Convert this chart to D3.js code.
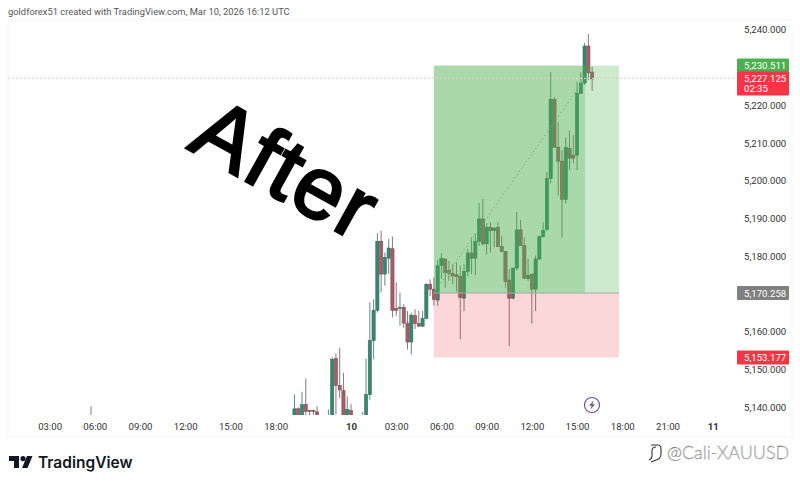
<!DOCTYPE html>
<html>
<head>
<meta charset="utf-8">
<script src="https://cdn.jsdelivr.net/npm/d3@7"></script>
<style>
  html, body { margin: 0; padding: 0; background: #fff; }
  svg { display: block; }
  text { font-family: Roboto, sans-serif; }
</style>
</head>
<body>
<div id="chart"></div>
<script>
// hours relative to Mar 10 00:00, 15 minute candles (the daily break is left out of the axis)
const times  = [-17.25,-3.75,-3.5,-3.25,-3,-2.75,-2.5,-2.25,-1.5,-1.25,-1,-0.75,-0.5,-0.25,0,0.75,1,1.25,1.5,1.75,2,2.25,2.5,2.75,3,3.25,3.5,3.75,4,4.25,4.5,4.75,5,5.25,5.5,5.75,6,6.25,6.5,6.75,7,7.25,7.5,7.75,8,8.25,8.5,8.75,9,9.25,9.5,9.75,10,10.25,10.5,10.75,11,11.25,11.5,11.75,12,12.25,12.5,12.75,13,13.25,13.5,13.75,14,14.25,14.5,14.75,15,15.25,15.5,15.75,16];
const opens  = [5136.5,5136,5139.6,5136,5140.7,5139.2,5139.2,5138.8,5134,5136,5152.9,5145.8,5144.4,5136,5139.1,5133,5136,5143.4,5157.7,5165.7,5184,5175.3,5179.5,5182,5166.2,5166.2,5166.5,5162.3,5157.3,5164.3,5162.2,5161.5,5163.5,5172.6,5171.3,5168.4,5177.6,5179.3,5176.2,5175.5,5175.1,5174.6,5168.9,5176,5180.9,5179.5,5184,5189.9,5183.3,5187.7,5186.8,5187.7,5182.6,5181.3,5173.7,5168.9,5176.9,5187,5182.8,5174.1,5175.3,5171.3,5179.3,5185.2,5187.1,5200.6,5221.6,5208.9,5205.2,5195.1,5208.6,5206.8,5206.8,5223.2,5225.9,5235.7,5228.8];
const highs  = [5140.3,5143.4,5140,5144.1,5147.6,5139.3,5139.4,5140.3,5139.4,5153.3,5154.3,5155.8,5149.1,5142.9,5140.9,5138.8,5152.9,5167.8,5168.6,5186.1,5186.8,5181,5184.6,5185.2,5173.1,5170.4,5167.3,5165.5,5165.1,5166,5165.5,5165.5,5172.9,5173.9,5174.4,5179,5180.8,5179.3,5178.8,5177.9,5178.4,5177.5,5177.9,5182,5185,5186,5194.1,5195.2,5188.8,5189,5187.7,5189,5185.5,5181.3,5176.6,5176.9,5191.7,5189.6,5185,5179.3,5175.3,5180.2,5185.5,5189,5202.3,5228.8,5222.2,5215.5,5208.1,5211.5,5213.4,5212.1,5226.2,5228.8,5236.5,5238.9,5230.2];
const lows   = [5136,5135.5,5135.5,5135.5,5136.5,5137.9,5136,5136,5133,5135,5138.1,5142.5,5135,5135,5135,5132,5135,5142,5152.7,5165.1,5170.4,5172.2,5175.3,5163.8,5164.2,5161.6,5161.1,5155.3,5154,5160.7,5161.3,5161.3,5163.3,5169.5,5166.9,5166.9,5174,5171.6,5173.5,5172.6,5170.7,5158,5165.4,5174.8,5175.3,5175.1,5182.8,5182.8,5180.4,5181,5182.4,5182.4,5181,5171.7,5156.2,5168.6,5176.3,5182.8,5174,5173.5,5162.2,5165.5,5179,5185,5186.8,5199.3,5208.9,5196.1,5184.9,5194,5202.8,5204.6,5202.8,5223,5225.4,5226.7,5223.8];
const closes = [5136.2,5139.6,5136,5140.7,5138.9,5139.1,5139,5136.5,5136,5152.7,5145.8,5144.6,5136,5139.4,5136,5135,5143.4,5157.7,5165.7,5184,5175.3,5179.7,5182.2,5165.7,5165.7,5166.5,5162.3,5157.3,5164.4,5162.2,5161.5,5163.5,5172.6,5171.3,5168.6,5177.5,5179.4,5175.7,5175.5,5174.8,5174.6,5169.1,5176,5180.9,5179.5,5184,5189.9,5183.3,5187.7,5186.8,5187.5,5182.6,5181.3,5173.3,5168.9,5176.9,5187,5182.8,5174.2,5175,5171.3,5179.3,5185.2,5186.8,5200.6,5221.6,5208.9,5205.2,5195.1,5208.9,5206,5206,5223.2,5225.9,5235.7,5228.6,5227];

const priceTicks = [5240,5220,5210,5200,5190,5180,5160,5150,5140];
const timeTicks = [-20,-17,-14,-11,-8,-5,0,3,6,9,12,15,18,21,24];
const timeLabels = ["03:00","06:00","09:00","12:00","15:00","18:00","10","03:00","06:00","09:00","12:00","15:00","18:00","21:00","11"];
const boldTicks = [0,24];

// long position tool
const positionStart = 5.5, positionNow = 15.53, positionEnd = 17.78;
const targetPrice = 5230.511, entryPrice = 5170.258, stopPrice = 5153.177, lastPrice = 5227.125;
const countdown = "02:35";

const fmt = d3.format(",.3f");
const width = 800, height = 485;

const x = d3.scaleLinear().domain([0, 24]).range([351, 712.7]);
const y = d3.scaleLinear().domain([5240, 5140]).range([29.8, 407.3]);

const svg = d3.select("#chart").append("svg").attr("width", width).attr("height", height);
svg.append("rect").attr("width", width).attr("height", height).attr("fill", "#fff");

svg.append("defs").append("clipPath").attr("id", "plot-clip")
  .append("rect").attr("x", 8).attr("y", 20).attr("width", 727).attr("height", 395);

// frame of the chart
svg.append("rect")
  .attr("x", 8).attr("y", 20).attr("width", 784).attr("height", 417)
  .attr("fill", "none").attr("stroke", "#f6f6f6");

svg.append("text").attr("x", 8).attr("y", 15)
  .attr("font-size", 9.37).attr("fill", "#555")
  .text("goldforex51 created with TradingView.com, Mar 10, 2026 16:12 UTC");

const plot = svg.append("g").attr("clip-path", "url(#plot-clip)");

// candles
const candles = times.map((t, i) => ({ t, o: opens[i], h: highs[i], l: lows[i], c: closes[i] }));
const isUp = d => d.c >= d.o;

plot.selectAll("line.wick").data(candles).join("line")
  .attr("class", "wick")
  .attr("x1", d => x(d.t)).attr("x2", d => x(d.t))
  .attr("y1", d => y(d.h)).attr("y2", d => y(d.l))
  .attr("stroke", d => isUp(d) ? "#5f8a7e" : "#96727a")
  .attr("stroke-width", 1);

plot.selectAll("rect.body").data(candles).join("rect")
  .attr("class", "body")
  .attr("x", d => x(d.t) - 1.6)
  .attr("width", 3.2)
  .attr("y", d => y(Math.max(d.o, d.c)))
  .attr("height", d => Math.max(1, Math.abs(y(d.o) - y(d.c))))
  .attr("fill", d => isUp(d) ? "#35876f" : "#a85c66")
  .attr("stroke", d => isUp(d) ? "#3a6f62" : "#7c4f55")
  .attr("stroke-width", 0.6);

// position boxes go over the candles
plot.append("rect")
  .attr("x", x(positionStart)).attr("width", x(positionEnd) - x(positionStart))
  .attr("y", y(targetPrice)).attr("height", y(entryPrice) - y(targetPrice))
  .attr("fill", "rgba(76,175,80,0.28)");
plot.append("rect")
  .attr("x", x(positionStart)).attr("width", x(positionNow) - x(positionStart))
  .attr("y", y(targetPrice)).attr("height", y(entryPrice) - y(targetPrice))
  .attr("fill", "rgba(76,175,80,0.28)");
plot.append("rect")
  .attr("x", x(positionStart)).attr("width", x(positionEnd) - x(positionStart))
  .attr("y", y(entryPrice)).attr("height", y(stopPrice) - y(entryPrice))
  .attr("fill", "rgba(242,54,69,0.2)");
plot.append("line")
  .attr("x1", x(positionStart)).attr("x2", x(positionEnd))
  .attr("y1", y(entryPrice)).attr("y2", y(entryPrice))
  .attr("stroke", "#a3aca3").attr("stroke-width", 1);
plot.append("line")
  .attr("x1", x(positionStart)).attr("y1", y(entryPrice))
  .attr("x2", x(positionNow)).attr("y2", y(lastPrice))
  .attr("stroke", "#7fa583").attr("stroke-width", 1).attr("stroke-dasharray", "1.5 2.5");

// last price line
svg.append("line")
  .attr("x1", 8).attr("x2", 735)
  .attr("y1", y(lastPrice)).attr("y2", y(lastPrice))
  .attr("stroke", "#efc9c9").attr("stroke-width", 1).attr("stroke-dasharray", "2 2");

// axes
const xAxis = svg.append("g")
  .attr("transform", "translate(0,420)")
  .call(d3.axisBottom(x).tickValues(timeTicks).tickSize(0).tickPadding(0)
    .tickFormat((d, i) => timeLabels[i]));
xAxis.select(".domain").remove();
xAxis.selectAll("text")
  .attr("y", 3)
  .attr("font-size", 9.6)
  .attr("font-family", "Roboto, sans-serif")
  .attr("font-weight", d => boldTicks.includes(d) ? 700 : 400)
  .attr("fill", "#333");

const yAxis = svg.append("g")
  .attr("transform", "translate(744,0)")
  .call(d3.axisRight(y).tickValues(priceTicks).tickSize(0).tickPadding(0).tickFormat(fmt));
yAxis.select(".domain").remove();
yAxis.selectAll("text")
  .attr("font-size", 9.6)
  .attr("font-family", "Roboto, sans-serif")
  .attr("fill", "#333");

// price badges
function badge(price, fill, h) {
  const top = y(price) - 7;
  svg.append("rect")
    .attr("x", 737).attr("y", top).attr("width", 52).attr("height", h)
    .attr("rx", 1).attr("fill", fill);
  svg.append("text")
    .attr("x", 744).attr("y", top + 10.5)
    .attr("font-size", 9.6).attr("fill", "#fff")
    .text(fmt(price));
}
badge(targetPrice, "#4caf50", 14);
badge(lastPrice, "#f23645", 24);
svg.append("text").attr("x", 744).attr("y", y(lastPrice) + 13.5)
  .attr("font-size", 9.6).attr("fill", "#fff").text(countdown);
badge(entryPrice, "#808080", 14);
badge(stopPrice, "#f23645", 14);

// lightning marker
const bolt = svg.append("g").attr("transform", "translate(592,405)");
bolt.append("circle").attr("r", 7.5).attr("fill", "#fff").attr("stroke", "#7b4a96").attr("stroke-width", 1.2);
bolt.append("path").attr("d", "M1.5,-4.5 L-3,0.8 L-0.4,0.8 L-1.5,4.5 L3,-0.8 L0.4,-0.8 Z").attr("fill", "#6d5a78");

// big rotated word
svg.append("text")
  .attr("transform", "translate(186,148) rotate(29)")
  .style("font-family", "'Liberation Sans', Arial, sans-serif")
  .attr("font-size", 88)
  .attr("letter-spacing", 2)
  .attr("fill", "#000").attr("stroke", "#000").attr("stroke-width", 2.6)
  .attr("stroke-linejoin", "miter")
  .text("After");

// TradingView logo
const logo = svg.append("g").attr("transform", "translate(9,456)").attr("fill", "#131722");
logo.append("path").attr("d", "M0,0 H10 V12 H5 V5 H0 Z");
logo.append("circle").attr("cx", 14).attr("cy", 2.6).attr("r", 2.6);
logo.append("path").attr("d", "M18,0 H23.5 L18.5,12 H13 Z");
svg.append("text").attr("x", 38).attr("y", 467.5)
  .style("font-family", "Inter, sans-serif")
  .attr("font-size", 15.5).attr("font-weight", 600).attr("fill", "#131722")
  .text("TradingView");

// watermark
const mark = svg.append("g").attr("fill", "none").attr("stroke", "#333").attr("stroke-width", 1.1);
mark.append("path").attr("d", "M651,445 H658 Q661,445 661,449 V454 Q661,459 656,460 L651,462");
mark.append("path").attr("d", "M656,447 Q652,447 652,451 V456 Q652,459 649,460");
svg.append("text").attr("x", 667).attr("y", 459)
  .style("font-family", "Lato, sans-serif")
  .attr("font-size", 18).attr("font-weight", 300)
  .attr("fill", "#e8e8e8").attr("stroke", "#777").attr("stroke-width", 0.35)
  .text("@Cali-XAUUSD");
</script>
</body>
</html>
